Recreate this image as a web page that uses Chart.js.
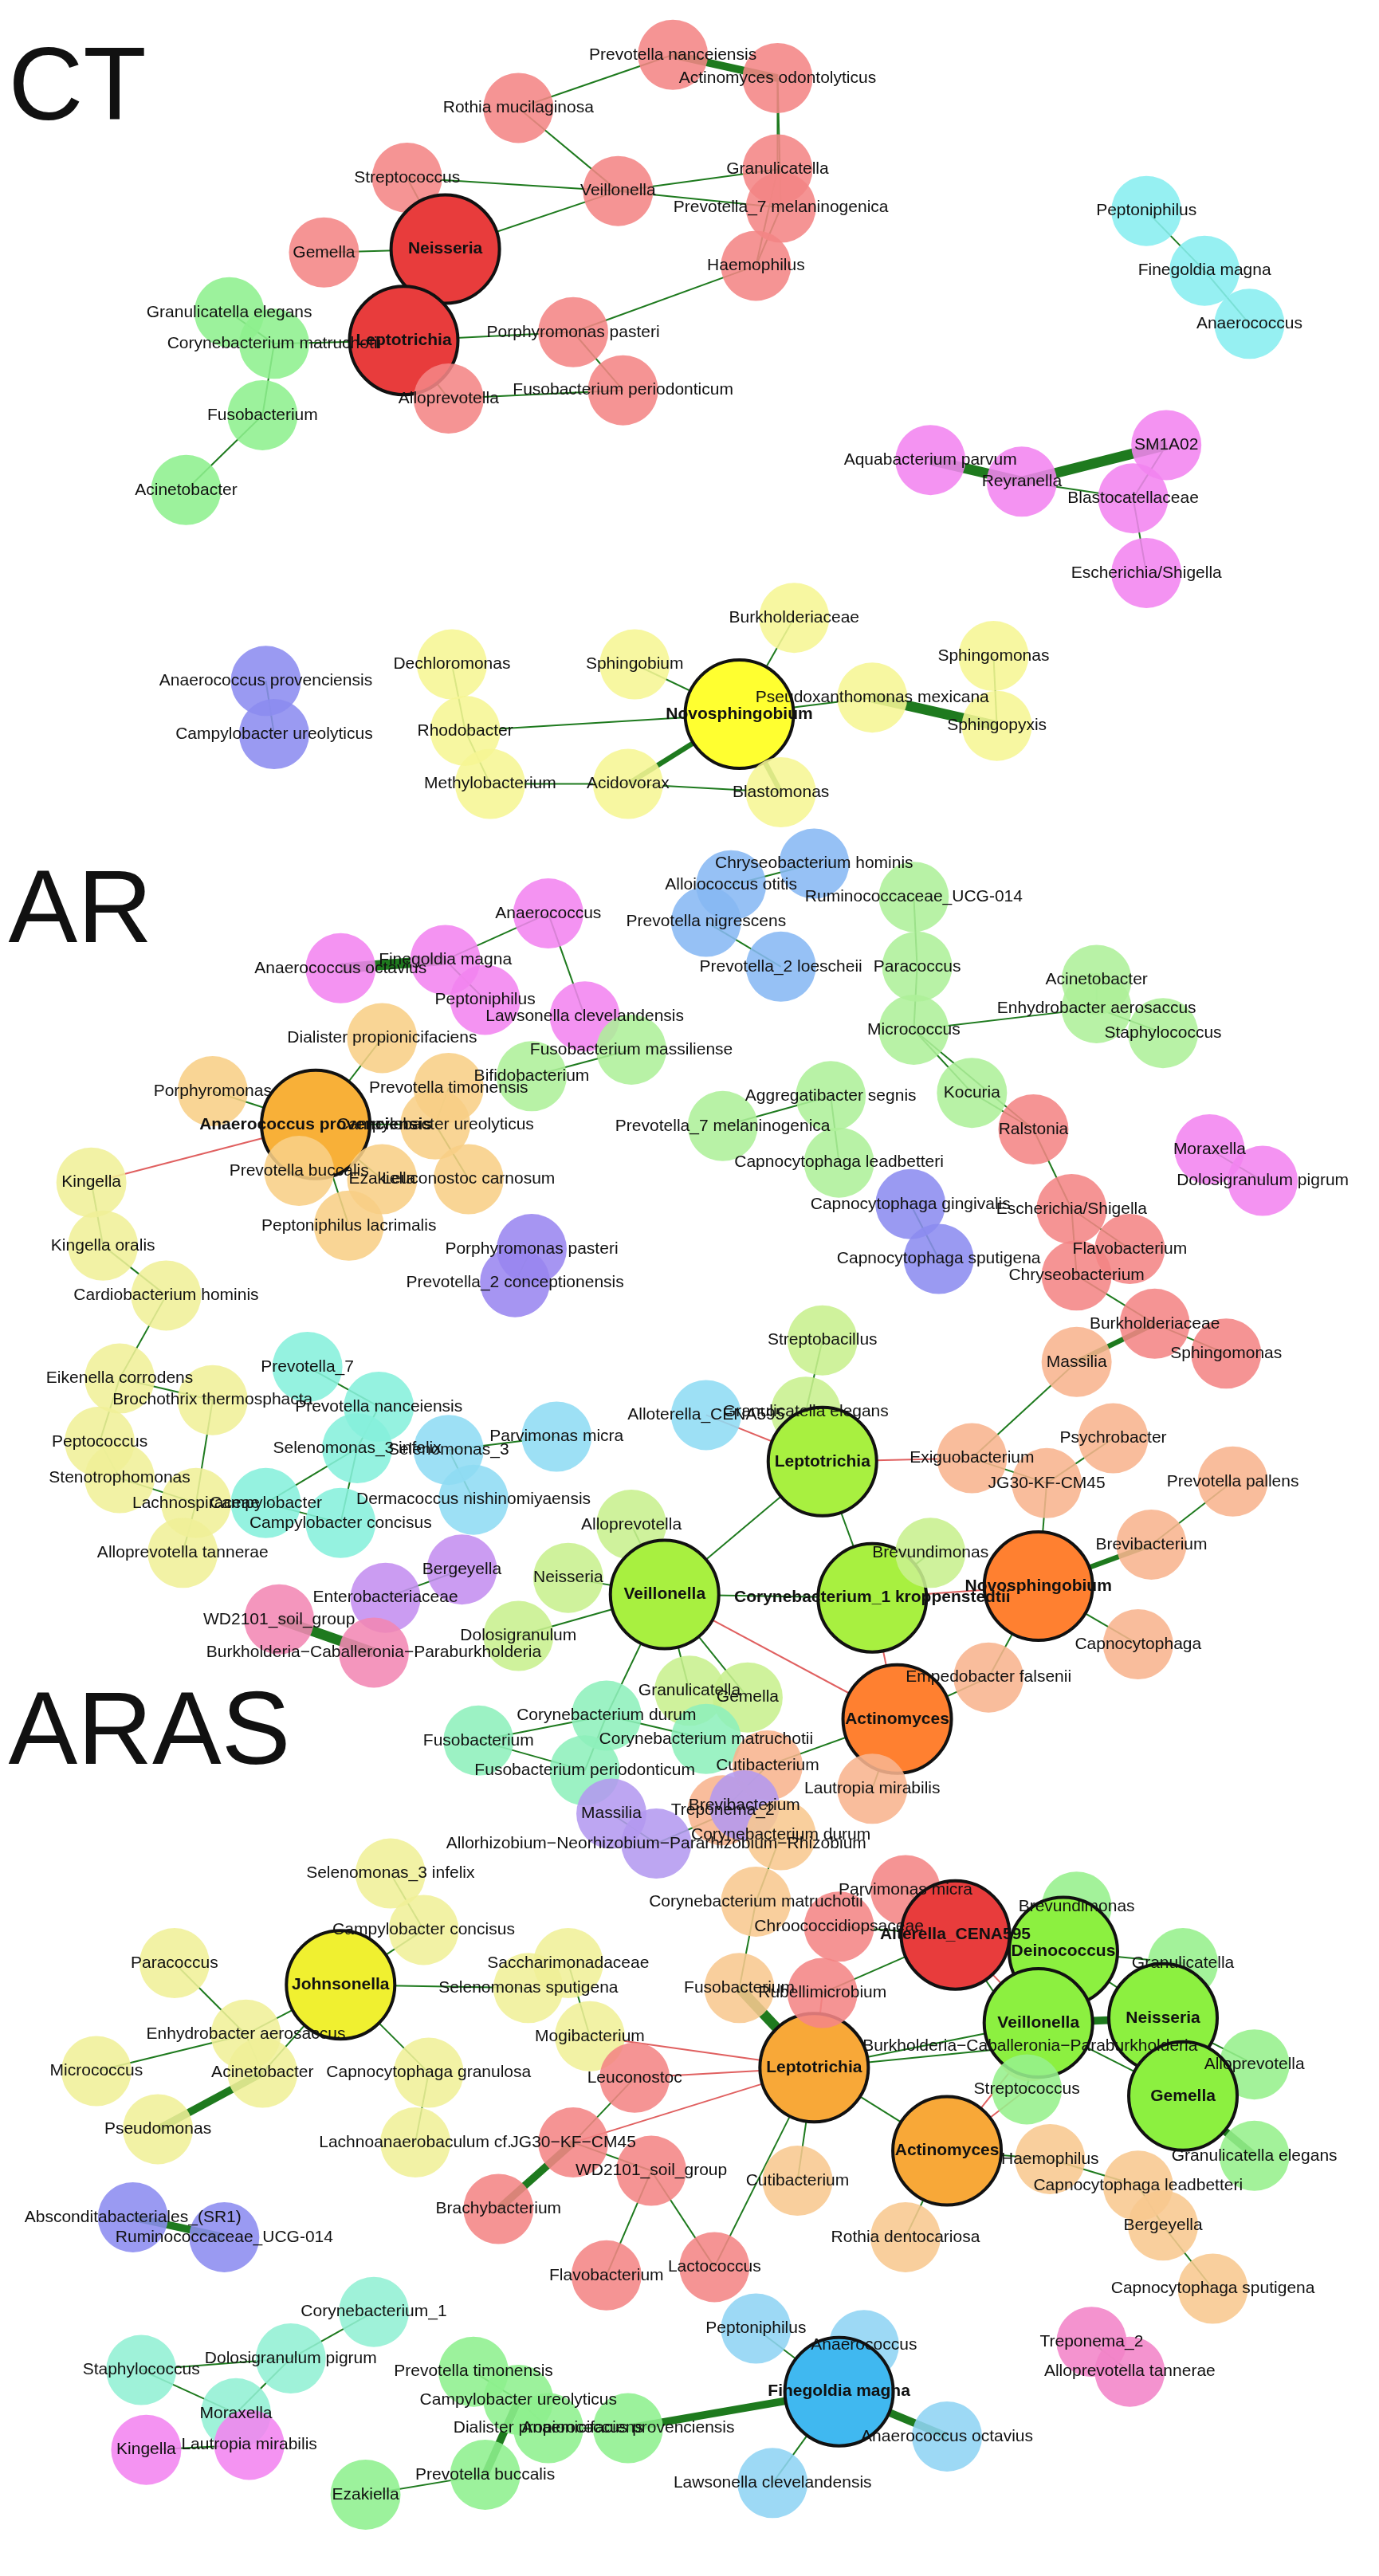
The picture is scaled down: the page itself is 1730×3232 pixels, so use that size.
<!DOCTYPE html>
<html><head><meta charset="utf-8">
<script src="https://cdn.jsdelivr.net/npm/chart.js@4.4.0/dist/chart.umd.min.js"></script>
<style>html,body{margin:0;padding:0;background:#fff;overflow:hidden;width:1730px;height:3232px}#w{position:absolute;left:-80px;top:-80px;width:1890px;height:3392px}</style>
</head><body><div id="w"><canvas id="c"></canvas></div>
<script>
// Panel titles [text, x, y]
const panelTitles = [["CT", 5, 55], ["AR", 5, 550], ["ARAS", 5, 1045]];
// Community colours (index = group id)
const groupColors = ["#f48585","#8ef08e","#88eef0","#f284f0","#8c8cf0","#f6f694",
 "#88b8f4","#aef09a","#f8cf86","#f0f098","#86f0dc","#9a86f0","#90dcf4","#c8f08e",
 "#8ef0bc","#f8b48e","#c48ef0","#f288b4","#b49af0","#f8c890","#96f08c","#92f0d4","#90d4f4","#f284c8"];
const bigColors = {0:"#e83c3c",5:"#ffff30",8:"#f8b038",13:"#a8f040",15:"#ff8030",9:"#f0f030",19:"#f8a838",20:"#8cf040",22:"#40b8f0"};
// nodes: [label, x, y, group, big(1)]
const ctNodes = [
 ["Prevotella nanceiensis",405,33,0],["Actinomyces odontolyticus",468,47,0],["Rothia mucilaginosa",312,65,0],
 ["Streptococcus",245,107,0],["Veillonella",372,115,0],["Granulicatella",468,102,0],["Prevotella_7 melaninogenica",470,125,0],
 ["Neisseria",268,150,0,1],["Gemella",195,152,0],["Leptotrichia",243,205,0,1],["Haemophilus",455,160,0],
 ["Porphyromonas pasteri",345,200,0],["Alloprevotella",270,240,0],["Fusobacterium periodonticum",375,235,0],
 ["Granulicatella elegans",138,188,1],["Corynebacterium matruchotii",165,207,1],["Fusobacterium",158,250,1],["Acinetobacter",112,295,1],
 ["Peptoniphilus",690,127,2],["Finegoldia magna",725,163,2],["Anaerococcus",752,195,2],
 ["Aquabacterium parvum",560,277,3],["Reyranella",615,290,3],["SM1A02",702,268,3],["Blastocatellaceae",682,300,3],["Escherichia/Shigella",690,345,3],
 ["Anaerococcus provenciensis",160,410,4],["Campylobacter ureolyticus",165,442,4],
 ["Dechloromonas",272,400,5],["Burkholderiaceae",478,372,5],["Sphingobium",382,400,5],["Rhodobacter",280,440,5],
 ["Novosphingobium",445,430,5,1],["Pseudoxanthomonas mexicana",525,420,5],["Sphingomonas",598,395,5],["Sphingopyxis",600,437,5],
 ["Methylobacterium",295,472,5],["Acidovorax",378,472,5],["Blastomonas",470,477,5]];
const ctEdges = [
 ["Prevotella nanceiensis","Actinomyces odontolyticus",3],["Rothia mucilaginosa","Prevotella nanceiensis",1],["Rothia mucilaginosa","Veillonella",1],
 ["Streptococcus","Neisseria",1],["Streptococcus","Veillonella",1],["Veillonella","Neisseria",1],["Veillonella","Granulicatella",1],
 ["Veillonella","Prevotella_7 melaninogenica",1],["Actinomyces odontolyticus","Granulicatella",1],["Actinomyces odontolyticus","Prevotella_7 melaninogenica",1],
 ["Granulicatella","Haemophilus",1],["Prevotella_7 melaninogenica","Haemophilus",1],["Neisseria","Leptotrichia",1],["Gemella","Neisseria",1],
 ["Leptotrichia","Porphyromonas pasteri",1],["Leptotrichia","Alloprevotella",1],["Porphyromonas pasteri","Haemophilus",1],
 ["Porphyromonas pasteri","Fusobacterium periodonticum",1],["Alloprevotella","Fusobacterium periodonticum",1],
 ["Corynebacterium matruchotii","Leptotrichia",1],["Granulicatella elegans","Corynebacterium matruchotii",1],
 ["Corynebacterium matruchotii","Fusobacterium",1],["Fusobacterium","Acinetobacter",1],
 ["Peptoniphilus","Finegoldia magna",1],["Finegoldia magna","Anaerococcus",1],
 ["Aquabacterium parvum","Reyranella",4],["Reyranella","SM1A02",4],["Reyranella","Blastocatellaceae",1],["SM1A02","Blastocatellaceae",1],
 ["Blastocatellaceae","Escherichia/Shigella",1],["Anaerococcus provenciensis","Campylobacter ureolyticus",1],
 ["Dechloromonas","Rhodobacter",1],["Rhodobacter","Novosphingobium",1],["Rhodobacter","Methylobacterium",1],["Sphingobium","Novosphingobium",1],
 ["Burkholderiaceae","Novosphingobium",1],["Novosphingobium","Pseudoxanthomonas mexicana",1],["Pseudoxanthomonas mexicana","Sphingopyxis",4],
 ["Sphingomonas","Sphingopyxis",1],["Novosphingobium","Acidovorax",2],["Novosphingobium","Blastomonas",2],["Methylobacterium","Acidovorax",1],
 ["Acidovorax","Blastomonas",1]];
const arNodes = [
 ["Anaerococcus",330,550,3],["Finegoldia magna",268,578,3],["Anaerococcus octavius",205,583,3],["Peptoniphilus",292,602,3],["Lawsonella clevelandensis",352,612,3],
 ["Chryseobacterium hominis",490,520,6],["Alloiococcus otitis",440,533,6],["Prevotella nigrescens",425,555,6],["Prevotella_2 loescheii",470,582,6],
 ["Ruminococcaceae_UCG-014",550,540,7],["Paracoccus",552,582,7],["Acinetobacter",660,590,7],["Enhydrobacter aerosaccus",660,607,7],
 ["Staphylococcus",700,622,7],["Micrococcus",550,620,7],["Kocuria",585,658,7],
 ["Fusobacterium massiliense",380,632,7],["Bifidobacterium",320,648,7],["Aggregatibacter segnis",500,660,7],
 ["Prevotella_7 melaninogenica",435,678,7],["Capnocytophaga leadbetteri",505,700,7],
 ["Dialister propionicifaciens",230,625,8],["Prevotella timonensis",270,655,8],["Porphyromonas",128,657,8],
 ["Anaerococcus provenciensis",190,677,8,1],["Campylobacter ureolyticus",262,677,8],["Prevotella buccalis",180,705,8],["Ezakiella",230,710,8],
 ["Leuconostoc carnosum",282,710,8],["Peptoniphilus lacrimalis",210,738,8],
 ["Kingella",55,712,9],["Kingella oralis",62,750,9],["Cardiobacterium hominis",100,780,9],["Eikenella corrodens",72,830,9],["Peptococcus",60,868,9],
 ["Brochothrix thermosphacta",128,843,9],["Stenotrophomonas",72,890,9],["Lachnospiraceae",118,905,9],["Alloprevotella tannerae",110,935,9],
 ["Prevotella_7",185,823,10],["Prevotella nanceiensis",228,847,10],["Selenomonas_3 infelix",215,872,10],["Campylobacter",160,905,10],["Campylobacter concisus",205,917,10],
 ["Porphyromonas pasteri",320,752,11],["Prevotella_2 conceptionensis",310,772,11],
 ["Selenomonas_3",270,873,12],["Parvimonas micra",335,865,12],["Alloterella_CENA595",425,852,12],["Dermacoccus nishinomiyaensis",285,903,12],
 ["Streptobacillus",495,807,13],["Granulicatella elegans",485,850,13],["Leptotrichia",495,880,13,1],["Alloprevotella",380,918,13],
 ["Neisseria",342,950,13],["Veillonella",400,960,13,1],["Dolosigranulum",312,985,13],["Granulicatella",415,1018,13],["Gemella",450,1022,13],
 ["Corynebacterium_1 kroppenstedtii",525,962,13,1],["Brevundimonas",560,935,13],
 ["Corynebacterium durum",365,1033,14],["Fusobacterium",288,1048,14],["Corynebacterium matruchotii",425,1047,14],["Fusobacterium periodonticum",352,1066,14],
 ["Exiguobacterium",585,878,15],["Massilia",648,820,15],["Psychrobacter",670,866,15],["JG30-KF-CM45",630,893,15],["Prevotella pallens",742,892,15],
 ["Brevibacterium",693,930,15],["Novosphingobium",625,955,15,1],["Capnocytophaga",685,990,15],["Empedobacter falsenii",595,1010,15],
 ["Actinomyces",540,1035,15,1],["Cutibacterium",462,1063,15],["Lautropia mirabilis",525,1077,15],["Treponema_2",435,1090,15],
 ["Ralstonia",622,680,0],["Escherichia/Shigella",645,728,0],["Flavobacterium",680,752,0],["Chryseobacterium",648,768,0],
 ["Burkholderiaceae",695,797,0],["Sphingomonas",738,815,0],
 ["Moraxella",728,692,3],["Dolosigranulum pigrum",760,711,3],
 ["Capnocytophaga gingivalis",548,725,4],["Capnocytophaga sputigena",565,758,4],
 ["Bergeyella",278,945,16],["Enterobacteriaceae",232,962,16],
 ["WD2101_soil_group",168,975,17],["Burkholderia−Caballeronia−Paraburkholderia",225,995,17]];
const arEdges = [
 ["Finegoldia magna","Anaerococcus octavius",4],["Finegoldia magna","Anaerococcus",1],["Finegoldia magna","Peptoniphilus",1],["Anaerococcus","Lawsonella clevelandensis",1],
 ["Chryseobacterium hominis","Alloiococcus otitis",1],["Prevotella nigrescens","Prevotella_2 loescheii",1],
 ["Ruminococcaceae_UCG-014","Paracoccus",1],["Paracoccus","Micrococcus",1],["Micrococcus","Enhydrobacter aerosaccus",1],["Acinetobacter","Enhydrobacter aerosaccus",1],
 ["Enhydrobacter aerosaccus","Staphylococcus",1],["Micrococcus","Kocuria",1],["Kocuria","Ralstonia",1],["Micrococcus","Ralstonia",1],
 ["Fusobacterium massiliense","Bifidobacterium",1],["Aggregatibacter segnis","Prevotella_7 melaninogenica",1],["Aggregatibacter segnis","Capnocytophaga leadbetteri",1],
 ["Dialister propionicifaciens","Anaerococcus provenciensis",1],["Porphyromonas","Anaerococcus provenciensis",1],["Anaerococcus provenciensis","Campylobacter ureolyticus",1],
 ["Anaerococcus provenciensis","Prevotella buccalis",1],["Anaerococcus provenciensis","Ezakiella",1],["Anaerococcus provenciensis","Peptoniphilus lacrimalis",1],
 ["Prevotella timonensis","Campylobacter ureolyticus",1],["Campylobacter ureolyticus","Leuconostoc carnosum",1],["Anaerococcus provenciensis","Kingella",1,1],
 ["Kingella","Kingella oralis",1],["Kingella oralis","Cardiobacterium hominis",1],["Cardiobacterium hominis","Eikenella corrodens",1],
 ["Eikenella corrodens","Peptococcus",1],["Eikenella corrodens","Brochothrix thermosphacta",1],["Peptococcus","Stenotrophomonas",1],
 ["Brochothrix thermosphacta","Lachnospiraceae",1],["Lachnospiraceae","Alloprevotella tannerae",1],["Stenotrophomonas","Lachnospiraceae",1],
 ["Prevotella_7","Prevotella nanceiensis",1],["Prevotella nanceiensis","Selenomonas_3 infelix",1],["Selenomonas_3 infelix","Campylobacter",1],
 ["Campylobacter","Campylobacter concisus",1],["Selenomonas_3 infelix","Campylobacter concisus",1],["Porphyromonas pasteri","Prevotella_2 conceptionensis",1],
 ["Selenomonas_3","Parvimonas micra",1],["Selenomonas_3","Dermacoccus nishinomiyaensis",1],["Alloterella_CENA595","Leptotrichia",1,1],
 ["Streptobacillus","Granulicatella elegans",1],["Granulicatella elegans","Leptotrichia",1],["Leptotrichia","Veillonella",1],["Leptotrichia","Corynebacterium_1 kroppenstedtii",1],
 ["Leptotrichia","Exiguobacterium",1,1],["Alloprevotella","Veillonella",1],["Neisseria","Veillonella",1],["Veillonella","Dolosigranulum",1],
 ["Veillonella","Granulicatella",1],["Veillonella","Gemella",1],["Veillonella","Corynebacterium_1 kroppenstedtii",1],["Corynebacterium_1 kroppenstedtii","Brevundimonas",1],
 ["Corynebacterium_1 kroppenstedtii","Actinomyces",1,1],["Corynebacterium_1 kroppenstedtii","Novosphingobium",1,1],["Veillonella","Actinomyces",1,1],
 ["Veillonella","Corynebacterium durum",1],["Corynebacterium durum","Fusobacterium",1],["Corynebacterium durum","Corynebacterium matruchotii",1],
 ["Fusobacterium","Fusobacterium periodonticum",1],["Corynebacterium durum","Fusobacterium periodonticum",1],
 ["Exiguobacterium","Massilia",1],["Exiguobacterium","JG30-KF-CM45",1],["Massilia","Burkholderiaceae",2],["Psychrobacter","JG30-KF-CM45",1],
 ["JG30-KF-CM45","Novosphingobium",1],["Novosphingobium","Brevibacterium",2],["Brevibacterium","Prevotella pallens",1],["Novosphingobium","Capnocytophaga",1],
 ["Novosphingobium","Empedobacter falsenii",1],["Actinomyces","Empedobacter falsenii",1],["Actinomyces","Cutibacterium",1],["Actinomyces","Lautropia mirabilis",1],
 ["Cutibacterium","Treponema_2",1],["Ralstonia","Escherichia/Shigella",1],["Escherichia/Shigella","Flavobacterium",1],["Escherichia/Shigella","Chryseobacterium",1],
 ["Chryseobacterium","Burkholderiaceae",1],["Burkholderiaceae","Sphingomonas",1],["Moraxella","Dolosigranulum pigrum",1],
 ["Capnocytophaga gingivalis","Capnocytophaga sputigena",1],["Bergeyella","Enterobacteriaceae",1],["WD2101_soil_group","Burkholderia−Caballeronia−Paraburkholderia",4]];
const arasNodes = [
 ["Massilia",368,1092,18],["Brevibacterium",448,1087,18],["Allorhizobium−Neorhizobium−Pararhizobium−Rhizobium",395,1110,18],
 ["Selenomonas_3 infelix",235,1128,9],["Campylobacter concisus",255,1162,9],["Paracoccus",105,1182,9],["Johnsonella",205,1195,9,1],
 ["Saccharimonadaceae",342,1182,9],["Selenomonas sputigena",318,1197,9],["Enhydrobacter aerosaccus",148,1225,9],["Micrococcus",58,1247,9],
 ["Acinetobacter",158,1248,9],["Mogibacterium",355,1226,9],["Capnocytophaga granulosa",258,1248,9],["Pseudomonas",95,1282,9],["Lachnoanaerobaculum cf.",250,1290,9],
 ["Absconditabacteriales_(SR1)",80,1335,4],["Ruminococcaceae_UCG-014",135,1347,4],
 ["Corynebacterium durum",470,1105,19],["Corynebacterium matruchotii",455,1145,19],["Fusobacterium",445,1197,19],["Leptotrichia",490,1245,19,1],
 ["Burkholderia−Caballeronia−Paraburkholderia",620,1232,19],["Cutibacterium",480,1313,19],["Actinomyces",570,1295,19,1],["Haemophilus",632,1300,19],
 ["Capnocytophaga leadbetteri",685,1316,19],["Rothia dentocariosa",545,1347,19],["Bergeyella",700,1340,19],["Capnocytophaga sputigena",730,1378,19],
 ["Parvimonas micra",545,1138,0],["Chroococcidiopsaceae",505,1160,0],["Alterella_CENA595",575,1165,0,1],["Rubellimicrobium",495,1200,0],
 ["Leuconostoc",382,1251,0],["JG30−KF−CM45",345,1290,0],["WD2101_soil_group",392,1307,0],["Brachybacterium",300,1330,0],
 ["Flavobacterium",365,1370,0],["Lactococcus",430,1365,0],
 ["Brevundimonas",648,1148,20],["Deinococcus",640,1175,20,1],["Granulicatella",712,1182,20],["Veillonella",625,1218,20,1],["Neisseria",700,1215,20,1],
 ["Alloprevotella",755,1243,20],["Gemella",712,1262,20,1],["Streptococcus",618,1258,20],["Granulicatella elegans",755,1298,20],
 ["Corynebacterium_1",225,1392,21],["Staphylococcus",85,1427,21],["Dolosigranulum pigrum",175,1420,21],["Moraxella",142,1453,21],
 ["Prevotella timonensis",285,1428,1],["Campylobacter ureolyticus",312,1445,1],["Anaerococcus provenciensis",378,1462,1],
 ["Dialister propionicifaciens",330,1462,1],["Ezakiella",220,1502,1],["Prevotella buccalis",292,1490,1],
 ["Peptoniphilus",455,1402,22],["Anaerococcus",520,1412,22],["Finegoldia magna",505,1440,22,1],["Anaerococcus octavius",570,1467,22],["Lawsonella clevelandensis",465,1495,22],
 ["Treponema_2",657,1410,23],["Alloprevotella tannerae",680,1428,23],
 ["Kingella",88,1475,3],["Lautropia mirabilis",150,1472,3]];
const arasEdges = [
 ["Massilia","Allorhizobium−Neorhizobium−Pararhizobium−Rhizobium",1],["Brevibacterium","Allorhizobium−Neorhizobium−Pararhizobium−Rhizobium",1],
 ["Selenomonas_3 infelix","Campylobacter concisus",1],["Campylobacter concisus","Johnsonella",1],["Paracoccus","Enhydrobacter aerosaccus",1],
 ["Johnsonella","Enhydrobacter aerosaccus",1],["Johnsonella","Acinetobacter",1],["Johnsonella","Capnocytophaga granulosa",1],["Johnsonella","Selenomonas sputigena",1],
 ["Saccharimonadaceae","Mogibacterium",1],["Micrococcus","Enhydrobacter aerosaccus",1],["Enhydrobacter aerosaccus","Acinetobacter",1],
 ["Acinetobacter","Pseudomonas",3],["Capnocytophaga granulosa","Lachnoanaerobaculum cf.",1],["Absconditabacteriales_(SR1)","Ruminococcaceae_UCG-014",3],
 ["Corynebacterium durum","Corynebacterium matruchotii",1],["Corynebacterium matruchotii","Fusobacterium",1],["Fusobacterium","Leptotrichia",4],
 ["Leptotrichia","Rubellimicrobium",1,1],["Leptotrichia","Leuconostoc",1,1],["Leptotrichia","JG30−KF−CM45",1,1],["Leptotrichia","Burkholderia−Caballeronia−Paraburkholderia",1],
 ["Leptotrichia","Cutibacterium",1],["Leptotrichia","Actinomyces",1],["Leptotrichia","Mogibacterium",1,1],["Leptotrichia","Veillonella",1],["Leptotrichia","Lactococcus",1],
 ["Actinomyces","Haemophilus",1],["Actinomyces","Rothia dentocariosa",1],["Actinomyces","Burkholderia−Caballeronia−Paraburkholderia",1,1],
 ["Haemophilus","Capnocytophaga leadbetteri",1],["Capnocytophaga leadbetteri","Bergeyella",1],["Bergeyella","Capnocytophaga sputigena",1],
 ["Parvimonas micra","Alterella_CENA595",1],["Chroococcidiopsaceae","Alterella_CENA595",1],["Alterella_CENA595","Rubellimicrobium",1],
 ["Alterella_CENA595","Deinococcus",1,1],["Alterella_CENA595","Veillonella",1,1],["Alterella_CENA595","Burkholderia−Caballeronia−Paraburkholderia",1],
 ["Leuconostoc","JG30−KF−CM45",1],["JG30−KF−CM45","WD2101_soil_group",1],["JG30−KF−CM45","Brachybacterium",3],["WD2101_soil_group","Flavobacterium",1],
 ["WD2101_soil_group","Lactococcus",1],
 ["Brevundimonas","Deinococcus",1],["Deinococcus","Veillonella",1],["Deinococcus","Neisseria",1],["Deinococcus","Granulicatella",1],["Veillonella","Neisseria",3],
 ["Veillonella","Gemella",1],["Neisseria","Gemella",1],["Neisseria","Alloprevotella",1],["Veillonella","Streptococcus",1],["Gemella","Granulicatella elegans",3],
 ["Streptococcus","Actinomyces",1,1],
 ["Corynebacterium_1","Dolosigranulum pigrum",1],["Staphylococcus","Dolosigranulum pigrum",1],["Dolosigranulum pigrum","Moraxella",1],["Staphylococcus","Moraxella",1],
 ["Prevotella timonensis","Campylobacter ureolyticus",1],["Campylobacter ureolyticus","Dialister propionicifaciens",1],["Campylobacter ureolyticus","Prevotella buccalis",3],
 ["Dialister propionicifaciens","Anaerococcus provenciensis",1],["Ezakiella","Prevotella buccalis",1],["Anaerococcus provenciensis","Finegoldia magna",3],
 ["Peptoniphilus","Finegoldia magna",1],["Anaerococcus","Finegoldia magna",1],["Finegoldia magna","Anaerococcus octavius",3],["Finegoldia magna","Lawsonella clevelandensis",1],
 ["Treponema_2","Alloprevotella tannerae",1],["Kingella","Lautropia mirabilis",1]];

const panels = [[ctNodes, ctEdges], [arNodes, arEdges], [arasNodes, arasEdges]];
const datasets = [];
panels.forEach(([nodes, edges]) => {
  const pos = {}; nodes.forEach(n => pos[n[0]] = n);
  edges.forEach(e => {
    const a = pos[e[0]], b = pos[e[1]]; if (!a || !b) return;
    datasets.push({type:'line', data:[{x:a[1],y:a[2]},{x:b[1],y:b[2]}], borderColor: e[3] ? '#e06060' : '#1e7a1e',
      borderWidth: e[2] === 1 ? 2 : e[2] * 3.2, pointRadius:0, order:2});
  });
});
const allNodes = panels.flatMap(p => p[0]);
datasets.push({type:'bubble', order:1,
  data: allNodes.map(n => ({x:n[1], y:n[2], r: n[4] ? 68 : 44})),
  backgroundColor: allNodes.map(n => n[4] ? (bigColors[n[3]] || groupColors[n[3]]) : groupColors[n[3]] + 'e0'),
  borderColor: allNodes.map(n => n[4] ? '#111' : 'rgba(0,0,0,0)'),
  borderWidth: allNodes.map(n => n[4] ? 4 : 0), clip:false});

const labelPlugin = {id:'labels', afterDatasetsDraw(chart){
  const ctx = chart.ctx, sx = chart.scales.x, sy = chart.scales.y;
  ctx.save(); ctx.textAlign='center'; ctx.textBaseline='middle'; ctx.fillStyle='#111';
  allNodes.forEach(n => {
    ctx.font = (n[4] ? 'bold ' : '') + '21px "Liberation Sans", Arial, sans-serif';
    ctx.fillText(n[0], sx.getPixelForValue(n[1]), sy.getPixelForValue(n[2]));
  });
  ctx.textAlign='left'; ctx.font='130px "Liberation Sans", Arial, sans-serif';
  panelTitles.forEach(t => ctx.fillText(t[0], sx.getPixelForValue(t[1]), sy.getPixelForValue(t[2])));
  ctx.restore();
}};

new Chart(document.getElementById('c'), {
  type:'bubble', data:{datasets},
  options:{responsive:true, maintainAspectRatio:false, animation:false,
    layout:{padding:80},
    plugins:{legend:{display:false}, tooltip:{enabled:false}},
    scales:{x:{type:'linear', min:0, max:830, display:false},
            y:{type:'linear', min:0, max:1551, reverse:true, display:false}}},
  plugins:[labelPlugin]
});
</script></body></html>
